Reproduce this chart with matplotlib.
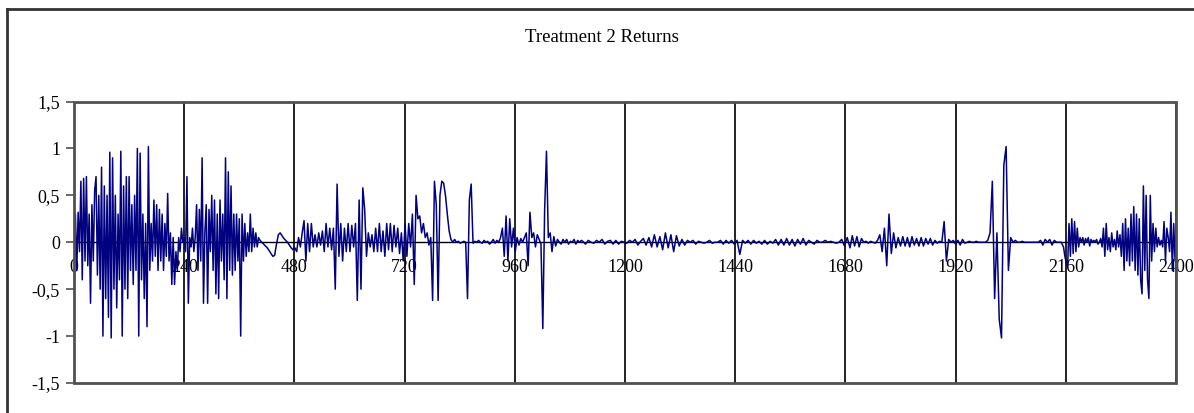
import numpy as np
import matplotlib
matplotlib.use("Agg")
import matplotlib.pyplot as plt
from matplotlib.lines import Line2D
from matplotlib.patches import Rectangle

plt.rcParams['font.family'] = ['Liberation Serif', 'DejaVu Serif']

title = "Treatment 2 Returns"

# returns, in pieces: (first period, spacing, values)
burst1_start, burst1_step = 0, 3
burst1 = [-0.55, 0.3, -0.3, 0.32, -0.1, 0.65, -0.4, 0.68, -0.2, 0.7,
          -0.25, 0.3, -0.65, 0.4, -0.2, 0.55, 0.7, -0.35, 0.5, -0.5,
          0.8, -1.0, 0.6, -0.6, 0.5, -0.8, 0.96, -1.02, 0.9, -0.5,
          0.5, -0.7, 0.3, -0.4, 0.97, -1.0, 0.6, -0.5, 0.7, -0.6,
          0.7, -0.3, 0.4, -0.45, 0.5, -0.3, 1.0, -1.0, 0.95, -0.4,
          0.3, -0.6, 0.2, -0.9, 1.02, -0.3, 0.2, -0.2, 0.45, -0.15,
          0.4, -0.3, 0.35, -0.2, 0.3, -0.3, 0.2, -0.15, 0.52, -0.2,
          0.1, -0.45, 0.05, -0.45, -0.1, -0.3, 0.05, -0.1, 0.15, 0.0,
          0.05, -0.1, 0.7, -0.65]

burst2_start, burst2_step = 252, 3
burst2 = [0.05, -0.05, 0.15, -0.1, 0.05, 0.4, -0.3, 0.35, -0.2, 0.9,
          -0.65, 0.1, 0.4, -0.65, 0.35, -0.1, 0.5, -0.3, 0.45, -0.55,
          0.3, -0.6, 0.45, -0.2, 0.3, -0.4, 0.9, -0.6, 0.75, -0.3,
          0.6, -0.35, 0.3, -0.3, 0.3, -0.2, 0.25, -1.0, 0.3, -0.2,
          0.2, -0.15, 0.1, -0.1, 0.3, -0.1, 0.15, -0.05, 0.1, -0.05,
          0.05]

# slow swing after the second burst
swing_start, swing_step = 405, 4
swing = [0.02, 0.0, -0.02, -0.04, -0.06, -0.09, -0.12, -0.15, -0.14, -0.02,
         0.08, 0.1, 0.07, 0.04, 0.02, 0.0, -0.03, -0.06, -0.08, -0.06]

mid_start, mid_step = 485, 4
mid = [-0.1, 0.05, -0.05, 0.1, 0.23, -0.2, 0.2, -0.1, 0.2, -0.05,
       0.08, -0.05, 0.1, -0.03, 0.12, -0.1, 0.2, -0.05, 0.15, -0.08,
       0.15, -0.5, 0.62, -0.15, 0.2, -0.2, 0.15, -0.1, 0.2, -0.1,
       0.18, -0.05, 0.2, -0.62, 0.45, -0.5, 0.58, 0.35, -0.15, 0.1,
       -0.05, 0.08, -0.1, 0.15, -0.1, 0.2, -0.1, 0.12, -0.15, 0.2,
       -0.08, 0.2, -0.1, 0.18, -0.05, 0.15, -0.12, 0.1, -0.2, 0.2,
       -0.15, 0.2, -0.05, 0.3, -0.45, 0.5, 0.25, 0.28, 0.1, 0.2,
       0.05, 0.1, -0.03, 0.05, -0.62, 0.65, 0.4, -0.62, 0.5, 0.65,
       0.63, 0.5, 0.3, 0.12, 0.03, 0.0, 0.03, 0.0, 0.01, -0.01,
       0.0, 0.01, 0.0, -0.6, 0.45, 0.62, -0.01, 0.01, 0.0, 0.02,
       0.0, -0.01, 0.02, 0.0, 0.01, -0.02, 0.0, 0.03, -0.01, 0.02,
       0.0, 0.05, 0.15, -0.15, 0.28, -0.2, 0.25, -0.05, 0.15, -0.1,
       0.05, -0.03, 0.04, 0.0, 0.05, 0.1, -0.25, 0.32, 0.05, 0.1,
       -0.05, 0.08, 0.03, -0.02, -0.92, 0.35, 0.97, 0.05, 0.1, -0.1,
       0.06, -0.04, 0.03, 0.0, -0.02, 0.03, 0.0, 0.03, -0.02, 0.01,
       0.0, 0.03, -0.02, 0.02, 0.0, 0.02]

quiet_start, quiet_step = 1108, 6
quiet = [0.01, -0.02, 0.02, 0.0, -0.01, 0.02, 0.0, 0.03, -0.02, 0.01,
         0.02, -0.02, 0.02, -0.02, 0.01, 0.0, -0.01, 0.02, 0.0, 0.03,
         -0.03, 0.01, 0.04, -0.03, 0.05, -0.05, 0.08, -0.05, 0.06, -0.08,
         0.1, -0.06, 0.08, -0.1, 0.07, -0.04, 0.03, -0.03, 0.02, 0.0,
         0.02, -0.02, 0.01, 0.0, -0.01, 0.0, 0.02, -0.01, 0.0, 0.0,
         0.02, -0.02, 0.02, -0.01, 0.02, -0.02, 0.02, -0.13, 0.02, -0.01,
         0.02, -0.02, 0.02, -0.01, 0.01, -0.02, 0.02, -0.02, 0.01, -0.01,
         0.03, -0.03, 0.03, -0.03, 0.04, -0.03, 0.03, -0.04, 0.03, -0.02,
         0.04, -0.03, 0.02, 0.0, -0.02, 0.02, 0.0, 0.0, 0.02, 0.0,
         0.01, 0.0, -0.01, 0.0, 0.03, -0.04, 0.05]

late_start, late_step = 1690, 5
late = [-0.06, 0.07, -0.04, 0.06, -0.05, 0.04, 0.0, 0.01, -0.01, 0.01,
        0.0, -0.01, 0.02, 0.08, -0.1, 0.15, -0.25, 0.3, -0.12, 0.1,
        -0.06, 0.05, -0.04, 0.06, -0.04, 0.05, -0.05, 0.06, -0.03, 0.04,
        -0.04, 0.05, -0.04, 0.04, -0.02, 0.04, -0.03, 0.02, -0.01, 0.01,
        0.0, 0.22, -0.2, 0.03, 0.0, 0.02, -0.02, 0.02, -0.03, 0.03,
        -0.01, 0.0, 0.01, 0.0, 0.0, 0.01, 0.0, 0.0, 0.0, 0.0,
        0.02, 0.1, 0.65, -0.6, 0.1, -0.82, -1.02, 0.82, 1.02, -0.3,
        0.05, 0.0, 0.02, 0.0, 0.0, 0.01, 0.0, 0.0, 0.0, 0.0,
        0.0, 0.0, 0.0, 0.02, -0.03, 0.03, 0.0, 0.03, -0.03, 0.02,
        0.0, 0.0, 0.0]

end_start, end_step = 2155, 3
end = [-0.05, -0.15, -0.22, -0.25, 0.2, -0.15, 0.25, -0.12, 0.22, -0.1,
       0.15, -0.05, 0.05, 0.0, 0.05, -0.03, 0.04, 0.0, 0.05, -0.04,
       0.03, 0.0, 0.02, 0.0, 0.03, -0.02, 0.0, 0.04, -0.05, 0.15,
       -0.15, 0.2, -0.08, 0.05, -0.1, 0.1, -0.05, 0.03, -0.08, 0.12,
       -0.05, 0.08, -0.15, 0.2, -0.3, 0.25, -0.2, 0.15, -0.25, 0.3,
       -0.2, 0.38, -0.3, 0.3, -0.35, 0.25, -0.4, -0.55, 0.6, -0.3,
       0.5, -0.4, -0.6, 0.5, -0.2, 0.2, -0.1, 0.15, -0.05, 0.05,
       -0.03, 0.02, -0.05, 0.22, -0.2, 0.15, 0.05, -0.1, 0.32, -0.3,
       0.2, -0.2, 0.15]

xticks = [0, 240, 480, 720, 960, 1200, 1440, 1680, 1920, 2160, 2400]
yticks = [-1.5, -1, -0.5, 0, 0.5, 1, 1.5]
ytick_labels = ["-1,5", "-1", "-0,5", "0", "0,5", "1", "1,5"]


def piece(start, step, vals):
    return start + step * np.arange(len(vals)), np.array(vals)


parts = [piece(burst1_start, burst1_step, burst1),
         piece(burst2_start, burst2_step, burst2),
         piece(swing_start, swing_step, swing),
         piece(mid_start, mid_step, mid),
         piece(quiet_start, quiet_step, quiet),
         piece(late_start, late_step, late),
         piece(end_start, end_step, end)]
t = np.concatenate([p[0] for p in parts])
r = np.concatenate([p[1] for p in parts])

fig = plt.figure(figsize=(11.94, 4.13), dpi=100)
ax = fig.add_axes([74 / 1194, 1 - 383 / 413, 1102 / 1194, 281.5 / 413])

ax.plot(t, r, color='#000080', lw=1.1, zorder=3)

ax.set_xlim(0, 2400)
ax.set_ylim(-1.5, 1.5)
ax.set_xticks(xticks)
ax.set_xticklabels([str(v) for v in xticks])
ax.set_yticks(yticks)
ax.set_yticklabels(ytick_labels)
ax.grid(axis='x', color='#111111', lw=1.3)
ax.set_axisbelow(True)

for s in ['top', 'left', 'right']:
    ax.spines[s].set_visible(False)
ax.spines['bottom'].set_position(('data', 0))
ax.spines['bottom'].set_color('black')
ax.spines['bottom'].set_linewidth(1.0)
ax.spines['bottom'].set_zorder(2)
ax.add_patch(Rectangle((0, 0), 1, 1, transform=ax.transAxes, fill=False,
                       ec='#505050', lw=2.0, clip_on=False, zorder=4))

ax.tick_params(axis='x', length=0, pad=12, labelsize=13, colors='black')
ax.tick_params(axis='y', direction='out', length=6, width=1.2, pad=4,
               labelsize=13, color='#505050')

fig.text(602 / 1194, 1 - 38 / 413, title, ha='center', va='center', fontsize=13.5)

# outer chart frame (only its top and left edges lie inside the picture)
fig.add_artist(Line2D([7 / 1194, 7 / 1194], [0, 1 - 9 / 413], color='#333333', lw=2))
fig.add_artist(Line2D([7 / 1194, 1], [1 - 9 / 413, 1 - 9 / 413], color='#333333', lw=2))

fig.savefig("out.png", dpi=100)
